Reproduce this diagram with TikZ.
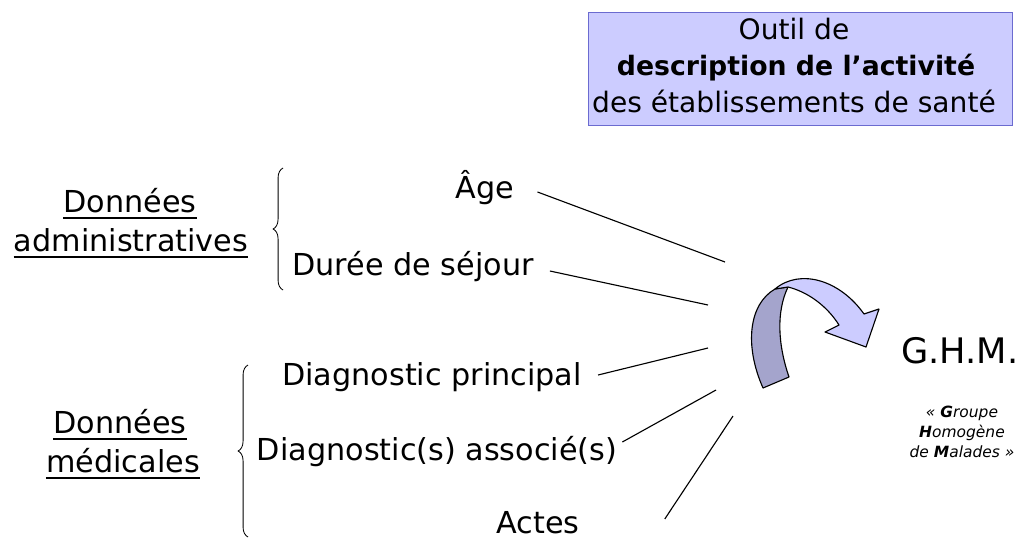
\documentclass[tikz,border=0pt]{standalone}
\usepackage{fontspec}
\setmainfont{DejaVu Sans}
\usetikzlibrary{decorations.pathreplacing}
\definecolor{boxfill}{HTML}{CCCCFF}
\definecolor{boxline}{HTML}{6B6BD0}
\definecolor{arrdark}{HTML}{A4A4CC}
\definecolor{arrlight}{HTML}{CCCCFF}
\begin{document}
\begin{tikzpicture}[x=0.025cm,y=-0.025cm,
  txt/.style={inner sep=0pt,anchor=base,font=\fontsize{21.5pt}{24pt}\selectfont},
  ultxt/.style={txt},
  uline/.style={line width=1.6pt},
  conn/.style={line width=0.8pt},
  bracestyle/.style={decorate,decoration={brace,amplitude=7pt},line width=0.6pt},
  small/.style={inner sep=0pt,anchor=base,font=\fontsize{11pt}{13pt}\selectfont\itshape}]
\useasboundingbox (0,0) rectangle (1020,540);

% title box
\node[draw=boxline,fill=boxfill,line width=0.8pt,minimum width=424*0.025cm,minimum height=113*0.025cm,anchor=north west,inner sep=0pt] (box) at (588,12) {};
\node[inner sep=0pt,anchor=base,font=\fontsize{20pt}{24pt}\selectfont] (t1) at (794,39) {Outil de};
\node[inner sep=0pt,anchor=base,font=\fontsize{19pt}{24pt}\selectfont\bfseries] (t2) at (796,75) {description de l’activité};
\node[inner sep=0pt,anchor=base,font=\fontsize{20pt}{24pt}\selectfont] (t3) at (794,112) {des établissements de santé};

% left labels
\node[ultxt] (don1) at (130,212) {Données};
\node[ultxt] (adm) at (131,251) {administratives};
\draw[uline] ([yshift=-4pt]don1.base west) -- ([yshift=-4pt]don1.base east);
\draw[uline] ([yshift=-4pt]adm.base west) -- ([yshift=-4pt]adm.base east);
\node[ultxt] (don2) at (120,433) {Données};
\node[ultxt] (med) at (123,472) {médicales};
\draw[uline] ([yshift=-4pt]don2.base west) -- ([yshift=-4pt]don2.base east);
\draw[uline] ([yshift=-4pt]med.base west) -- ([yshift=-4pt]med.base east);

% braces
\draw[bracestyle] (283,290) -- (283,168);
\draw[bracestyle] (248,537) -- (248,365);

% items
\node[txt] (age) at (485,198) {Âge};
\node[txt] (duree) at (413,275) {Durée de séjour};
\node[txt] (dp) at (432,385) {Diagnostic principal};
\node[txt] (da) at (437,460) {Diagnostic(s) associé(s)};
\node[txt] (actes) at (538,533) {Actes};

% connector ends near the arrow
\coordinate (c1) at (725,262);
\coordinate (c2) at (708,305);
\coordinate (c3) at (708,348);
\coordinate (c4) at (716,390);
\coordinate (c5) at (733,416);
\draw[conn] ([shift={(23*0.025cm,6*0.025cm)}]age.base east) -- (c1);
\draw[conn] ([shift={(16*0.025cm,4*0.025cm)}]duree.base east) -- (c2);
\draw[conn] ([shift={(16*0.025cm,10*0.025cm)}]dp.base east) -- (c3);
\draw[conn] ([shift={(5*0.025cm,18*0.025cm)}]da.base east) -- (c4);
\draw[conn] ([shift={(85*0.025cm,14*0.025cm)}]actes.base east) -- (c5);

% curved arrow
\draw[fill=arrdark,line width=0.8pt,line join=round]
  (763,388) .. controls (744,345) and (749,304) .. (775,289) -- (788,287)
  .. controls (776,312) and (778,345) .. (789,377) -- cycle;
\draw[fill=arrlight,line width=0.8pt,line join=round]
  (775,289) .. controls (800,268) and (840,280) .. (864,314) -- (879,309) -- (866,347)
  -- (825,332) -- (839,325) .. controls (827,306) and (808,292) .. (788,287) -- cycle;

% result
\node[inner sep=0pt,anchor=base,font=\fontsize{25pt}{28pt}\selectfont] (ghm) at (960,363) {G.H.M.};
\node[small] (g1) at (962,417) {« \textbf{G}roupe};
\node[small] (g2) at (962,437) {\textbf{H}omogène};
\node[small] (g3) at (962,457) {de \textbf{M}alades »};
\end{tikzpicture}
\end{document}
